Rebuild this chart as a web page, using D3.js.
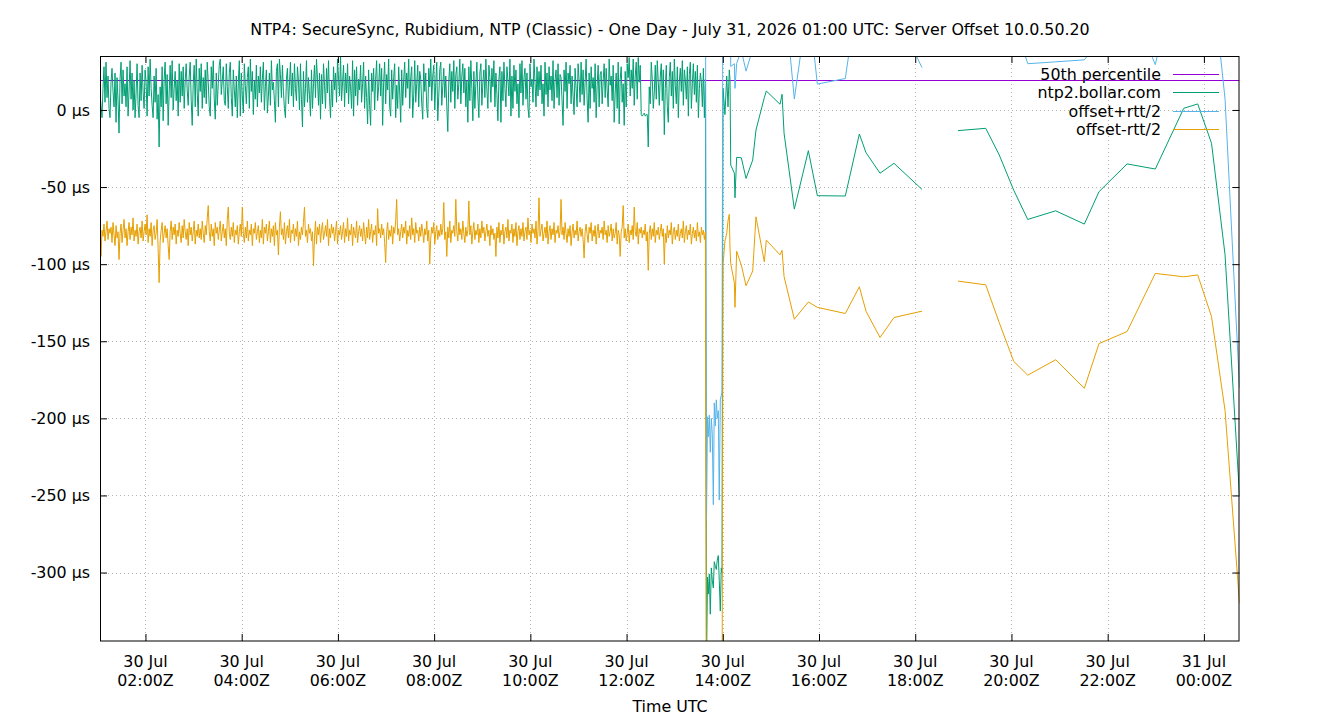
<!DOCTYPE html>
<html>
<head>
<meta charset="utf-8">
<script src="https://cdn.jsdelivr.net/npm/d3@7"></script>
<style>
  body { margin: 0; background: #fff; }
  svg { display: block; font-family: 'DejaVu Sans', sans-serif; }
</style>
</head>
<body>
<div id="chart"></div>
<script>
const title = 'NTP4: SecureSync, Rubidium, NTP (Classic) - One Day - July 31, 2026 01:00 UTC: Server Offset 10.0.50.20';
const xLabel = 'Time UTC';
const seriesNames = ['50th percentile', 'ntp2.bollar.com', 'offset+rtt/2', 'offset-rtt/2'];
const seriesColors = ['#9400d3', '#009e73', '#56b4e9', '#e69f00'];
const p50 = 19.5;
const yTicks = [-300, -250, -200, -150, -100, -50, 0];

// times are minutes after 2026-07-30 00:00Z
const dayStart = Date.UTC(2026, 6, 30);
const pollStartMin = 63.3;
const pollStepMin = 1.25;

// steady polling until ~13:38Z: offset, µs
const pollOffset = [
  10, 3, -5, 14, 28, 5, 31, 8, 22, 1, -5, 18, 27, 12, 2, 24, -8, 21, 6, -15,
  20, 31, 4, 26, 9, 17, 2, 28, -4, 13, 32, 7, 24, 0, 19, -5, 11, 30, 3, -5,
  24, 6, 29, 12, 1, 26, 18, -4, 28, 9, 33, 14, 3, -5, 22, 5, 27, -6, 10, -24,
  15, 2, 28, -7, 20, 31, 4, 23, -10, 11, 29, 8, 32, 0, 14, 25, 6, 19, -4, 30,
  5, 25, 9, 28, 1, 19, 30, 13, 3, 22, 31, 6, -10, 17, 29, 2, 33, 11, -4, 27,
  12, 30, 1, 21, 8, 26, 4, 31, 18, 2, -4, 28, 14, 32, 7, -6, 24, 3, 17, 29,
  33, 10, 19, 28, 6, 3, 30, 15, 1, 24, 31, 8, -4, 26, 13, 2, 22, -5, 18, 32,
  -4, 24, 9, -2, 30, 16, 4, 21, 28, 1, 33, 12, 25, -3, 19, 7, 29, 2, 22, 11,
  28, 5, 20, 31, 0, 15, 26, -2, 9, 24, 3, 32, 13, 18, 6, -8, 25, 30, 2, 33,
  23, 8, 29, 12, 1, -5, 20, 27, 4, 16, 31, 9, 24, 2, 30, 14, 6, 28, 19, 0,
  30, 7, -11, 25, 2, 14, 32, 5, 21, 10, -4, 26, 1, 17, 29, 8, 33, 20, 3, 24,
  -6, 23, 4, 30, 16, 1, 27, 11, 32, 8, -5, 19, 2, 28, 13, 24, 5, 33, 20, 9,
  35, 6, 18, 29, 2, 24, 11, 30, 4, 22, 15, 1, 32, -4, 26, 9, 28, 3, 20, 13,
  29, 5, 17, 31, 1, 22, 8, -9, 26, 3, -10, 24, 12, 27, 0, 20, 32, 6, 15, 30,
  9, 27, -10, 18, 31, 4, 23, 13, 33, 2, -4, 26, 7, 21, 30, -5, 16, 1, 28, 11,
  -8, 26, 3, 19, 31, 8, 24, 14, 33, 1, 21, 28, -5, 10, 32, 5, 17, 29, 2, 25,
  20, 4, -6, 30, 12, 24, 1, -5, 27, 15, 33, 6, 22, 29, 0, 18, 31, -7, 9, 26,
  31, 3, 16, 27, 8, 22, 2, -14, 19, 30, 5, 25, 12, 32, 1, 23, 28, 7, 17, 33,
  4, 22, 30, 11, 27, 2, 19, -8, 28, 6, 32, 14, -7, 25, 1, 17, 31, 9, -5, 24,
  30, 3, 18, 26, 8, 33, 13, 1, 29, 21, 5, 27, 15, 32, 2, 24, 10, -7, 20, 28,
  -8, 25, 6, 31, 14, 2, 28, 19, 9, 33, -4, 22, 1, 29, 12, 26, 4, 17, -5, 30,
  11, 32, 3, 21, 27, 7, 24, 1, -5, 30, 15, 20, 5, 33, 18, 2, 28, 9, 25, 13,
  29, 4, 17, -4, 31, 10, 24, 2, 28, 13, 22, 6, 32, 1, 19, 26, 8, 30, 3, 23,
  21, 6, -10, 26, 12, 31, 1, 24, 17, 29, 4, 22, 9, -3, 27, 14, 2, 30, 19, 5,
  31, 10, 26, 3, 18, 33, 7, -8, 24, 1, 28, 14, 21, 5, 30, -5, 16, 29, 2, 23,
  25, 4, 19, 30, 8, 27, 13, 2, 33, 16, 22, 6, 29, -8, 11, 24, 1, 31, -9, 20,
  28, 5, 17, -10, 25, 2, 30, 21, 34, 9, 26, 14, 33, 3, 22, 31, 7, 34, 18, 29,
  -3, -4, -3, -2, -4, -3, -3, -24, 15, 4, 31, 20, 1, 11, 29, 7, 32, 18, 3, 22,
  30, 6, 26, -16, 14, 29, 2, -8, 21, 31, 9, 25, 1, 33, 16, 4, 28, -5, 19, 27,
  12, 32, 3, 26, 19, 7, 28, -4, 23, 31, 1, 17, 30, 10, 25, 5, 29, -5, 14, 24,
  18, 2, 27, -5, 20
];
// same samples: offset-rtt/2, µs
const pollLow = [
  -68, -95, -78, -82, -74, -85, -79, -72, -84, -77, -80, -76, -86, -73, -81, -88, -75, -83, -79, -97,
  -80, -74, -86, -78, -71, -83, -77, -88, -79, -73, -84, -76, -81, -70, -85, -78, -82, -74, -87, -79,
  -76, -83, -72, -85, -79, -74, -81, -68, -86, -77, -82, -73, -88, -78, -75, -84, -80, -71, -90, -112,
  -85, -78, -73, -86, -80, -75, -83, -77, -88, -97, -79, -72, -84, -76, -81, -74, -87, -78, -82, -73,
  -80, -86, -75, -83, -71, -79, -84, -77, -88, -73, -81, -76, -85, -79, -72, -87, -78, -82, -74, -83,
  -77, -84, -72, -80, -86, -75, -81, -70, -62, -79, -85, -74, -82, -77, -88, -73, -80, -76, -84, -78,
  -72, -85, -79, -74, -83, -77, -88, -71, -63, -80, -84, -76, -82, -73, -86, -78, -81, -75, -87, -79,
  -74, -82, -63, -80, -86, -76, -83, -72, -85, -78, -81, -74, -88, -77, -80, -73, -84, -79, -75, -86,
  -78, -83, -71, -87, -76, -80, -74, -85, -79, -72, -86, -77, -82, -75, -88, -73, -81, -78, -94, -76,
  -66, -81, -77, -84, -73, -87, -79, -75, -83, -71, -86, -78, -80, -74, -85, -77, -82, -72, -88, -79,
  -84, -76, -81, -73, -63, -82, -78, -86, -74, -80, -77, -85, -79, -101, -83, -72, -87, -76, -81, -74,
  -86, -78, -73, -84, -80, -75, -82, -71, -88, -77, -83, -74, -80, -76, -85, -79, -72, -87, -78, -81,
  -75, -84, -79, -73, -86, -77, -82, -70, -85, -78, -81, -74, -88, -76, -80, -83, -72, -86, -79, -75,
  -82, -77, -85, -73, -80, -87, -76, -83, -71, -84, -79, -74, -86, -78, -81, -75, -88, -64, -80, -77,
  -83, -74, -81, -77, -86, -99, -79, -73, -84, -78, -82, -75, -87, -76, -80, -72, -58, -81, -77, -85,
  -79, -74, -83, -76, -80, -72, -87, -78, -82, -75, -84, -70, -81, -77, -86, -73, -80, -78, -85, -76,
  -82, -74, -79, -86, -77, -81, -72, -85, -78, -100, -83, -76, -80, -73, -87, -79, -75, -84, -78, -82,
  -74, -81, -77, -60, -84, -79, -95, -76, -83, -72, -86, -78, -80, -75, -82, -58, -79, -85, -73, -81,
  -77, -84, -72, -80, -86, -76, -82, -78, -59, -81, -75, -87, -79, -73, -84, -78, -81, -74, -86, -77,
  -83, -72, -80, -76, -85, -79, -74, -82, -78, -88, -75, -81, -77, -84, -80, -95, -76, -83, -73, -86,
  -78, -81, -74, -87, -79, -76, -83, -71, -85, -78, -80, -74, -86, -77, -82, -73, -88, -79, -75, -84,
  -77, -82, -73, -85, -79, -76, -84, -70, -81, -78, -86, -74, -80, -77, -83, -72, -87, -79, -57, -82,
  -78, -74, -85, -80, -76, -83, -72, -87, -79, -75, -84, -77, -81, -73, -86, -78, -80, -75, -83, -79,
  -58, -81, -76, -84, -73, -80, -86, -77, -82, -75, -88, -79, -74, -83, -78, -81, -72, -85, -79, -76,
  -82, -77, -84, -96, -79, -74, -81, -86, -76, -80, -73, -85, -78, -82, -75, -87, -79, -74, -83, -78,
  -80, -76, -84, -72, -81, -78, -86, -75, -82, -79, -74, -85, -77, -83, -80, -73, -87, -78, -81, -95,
  -79, -76, -62, -83, -77, -85, -80, -74, -86, -78, -81, -75, -84, -63, -79, -82, -73, -87, -77, -80,
  -76, -83, -78, -81, -74, -85, -79, -104, -80, -75, -84, -77, -82, -73, -86, -78, -81, -76, -84, -79,
  -74, -82, -77, -100, -80, -86, -75, -83, -78, -81, -73, -87, -79, -76, -84, -78, -82, -74, -85, -80,
  -77, -83, -72, -86, -79, -75, -84, -78, -81, -74, -87, -80, -76, -83, -78, -85, -73, -82, -79, -86,
  -76, -81, -78, -84, -79
];

// step at 13:40Z and the sparse samples after it (null = no data)
const laterMin = [
  819.7, 820.9, 821.9, 823.2, 824.4, 825.7, 826.9, 828.2, 829.4, 830.7, 831.9, 833.1, 834.4, 835.6, 836.9, 838.1, 839.0,
  840.3, 842.7, 844.9, 846.5, 848.1, 849.0, 849.9, 854.4, 855.2, 857.3, 863.1, 869.0, 877.3, 881.4,
  891.8, 894.3, 911.4, 913.9, 916.4, 929.2, 946.7, 957.9, 992.8, 1010.3, 1018.6, 1036.1, 1053.5, 1088.4,
  1110,
  1133.3, 1167.9, 1184.8, 1202.8, 1220.3, 1255.2, 1290.9, 1309.2, 1344.2, 1379.4, 1414.9, 1432.3, 1449.5, 1466.4, 1484.4
];
const laterOffset = [
  -360, -303, -314, -301, -327, -297, -305, -310, -293, -296, -298, -292, -289, -305, -325, -297, -300,
  14, -3, 22, 2, 26, 20, -35.7, -41, -57, -30.7, -31, -44.4, -32.5, -13,
  8, 12.3, 3.7, 10.2, -15, -64.3, -26.4, -55.6, -55.8, -15.6, -27.7, -41, -34.6, -51.5,
  null,
  -13.4, -11.9, -29.2, -52, -71, -65.4, -74, -53, -35, -38.3, 1.1, 3.9, -21.6, -94, -250
];
const laterLow = [
  -454, -407, -416, -404, -432, -394, -400, -364, -396, -387, -408, -384, -383, -357, -462, -409, -417,
  -100, -85, -80, -72, -67.7, -90, -99.6, -112, -128, -91.6, -100.6, -114, -104.5, -69.3,
  -98.5, -84.4, -94, -91, -108, -135.7, -124.5, -128, -132, -114.7, -130.5, -147.6, -134.6, -130.5,
  null,
  -111, -113.4, -138, -163, -172, -162, -180.5, -151.5, -143.7, -106, -108.2, -107, -134, -195, -320
];

const minToDate = m => new Date(dayStart + m * 60000);

const rows = pollOffset.map((v, i) => ({t: minToDate(pollStartMin + i * pollStepMin), offset: v, low: pollLow[i]}))
  .concat(laterMin.map((m, i) => ({t: minToDate(m), offset: laterOffset[i], low: laterLow[i]})));
rows.forEach(d => {
  d.rtt = d.offset == null ? null : 2 * (d.offset - d.low);
  d.high = d.offset == null ? null : d.offset + d.rtt / 2;
});

const W = 1340, H = 720;
const fontSize = 15.85;
const margin = {top: 56, right: 100.5, bottom: 79, left: 100};
const plotL = margin.left, plotR = W - margin.right, plotT = margin.top, plotB = H - margin.bottom;

const x = d3.scaleUtc()
  .domain(d3.extent(rows, d => d.t))
  .range([plotL, plotR]);

const y = d3.scaleLinear()
  .domain([-344.4, 35])
  .range([plotB, plotT]);

const xTicks = x.ticks(d3.utcHour.every(2));

const svg = d3.select('#chart')
  .append('svg')
  .attr('width', W)
  .attr('height', H);

svg.append('rect').attr('width', W).attr('height', H).attr('fill', '#fff');

svg.append('defs').append('clipPath').attr('id', 'plot-clip')
  .append('rect')
  .attr('x', plotL).attr('y', plotT)
  .attr('width', plotR - plotL).attr('height', plotB - plotT);

// dotted grid
const grid = svg.append('g').attr('stroke', '#b4b4b4').attr('stroke-dasharray', '1,3');
grid.selectAll('.gx')
  .data(xTicks)
  .enter().append('line')
    .attr('x1', d => Math.round(x(d)) + 0.5).attr('x2', d => Math.round(x(d)) + 0.5)
    .attr('y1', plotT).attr('y2', plotB);
grid.selectAll('.gy')
  .data(yTicks)
  .enter().append('line')
    .attr('x1', plotL).attr('x2', plotR)
    .attr('y1', d => Math.round(y(d)) + 0.5).attr('y2', d => Math.round(y(d)) + 0.5);

// series
const plot = svg.append('g').attr('clip-path', 'url(#plot-clip)')
  .attr('fill', 'none').attr('stroke-width', 1);

plot.append('path')
  .datum(x.domain())
  .attr('stroke', seriesColors[0])
  .attr('d', d3.line().x(d => x(d)).y(() => Math.round(y(p50)) + 0.5));

const accessors = [null, d => d.offset, d => d.high, d => d.low];
[1, 2, 3].forEach(k => {
  plot.append('path')
    .datum(rows)
    .attr('stroke', seriesColors[k])
    .attr('stroke-linejoin', 'round')
    .attr('d', d3.line()
      .defined(d => accessors[k](d) != null)
      .x(d => x(d.t))
      .y(d => y(accessors[k](d))));
});

// border
svg.append('rect')
  .attr('x', plotL + 0.5).attr('y', plotT + 0.5)
  .attr('width', plotR - plotL - 1).attr('height', plotB - plotT - 0.5)
  .attr('fill', 'none').attr('stroke', '#000');

const styleAxis = g => g.call(s => s.select('.domain').remove())
  .attr('font-family', "'DejaVu Sans', sans-serif")
  .attr('font-size', fontSize)
  .call(s => s.selectAll('.tick line').attr('stroke', '#000'));

svg.append('g')
  .attr('transform', `translate(0,${plotB})`)
  .call(d3.axisBottom(x).tickValues(xTicks).tickSize(-7).tickFormat(''))
  .call(styleAxis);
svg.append('g')
  .attr('transform', `translate(0,${plotT})`)
  .call(d3.axisTop(x).tickValues(xTicks).tickSize(-7).tickFormat(''))
  .call(styleAxis);
svg.append('g')
  .attr('transform', `translate(${plotL},0)`)
  .call(d3.axisLeft(y).tickValues(yTicks).tickSize(-7).tickPadding(10).tickFormat(d => d + ' µs'))
  .call(styleAxis)
  .call(g => g.selectAll('.tick text').attr('fill', '#000'));
svg.append('g')
  .attr('transform', `translate(${plotR},0)`)
  .call(d3.axisRight(y).tickValues(yTicks).tickSize(-7).tickFormat(''))
  .call(styleAxis);

// two-line time labels
const xl = svg.append('g').attr('font-size', fontSize).attr('text-anchor', 'middle').attr('fill', '#000');
xl.selectAll('.d')
  .data(xTicks)
  .enter().append('text')
    .attr('x', d => x(d)).attr('y', 667)
    .text(d3.utcFormat('%d %b'));
xl.selectAll('.h')
  .data(xTicks)
  .enter().append('text')
    .attr('x', d => x(d)).attr('y', 686)
    .text(d3.utcFormat('%H:%MZ'));

svg.append('text')
  .attr('x', 670).attr('y', 712)
  .attr('text-anchor', 'middle').attr('font-size', fontSize)
  .text(xLabel);

svg.append('text')
  .attr('x', 670).attr('y', 35)
  .attr('text-anchor', 'middle').attr('font-size', fontSize)
  .text(title);

// legend
const legend = svg.append('g').attr('font-size', fontSize);
const item = legend.selectAll('.item')
  .data(seriesNames)
  .enter().append('g')
    .attr('transform', (d, i) => `translate(0,${Math.round(74 + i * 18.4) + 0.5})`);
item.append('text')
  .attr('x', 1161).attr('dy', '0.35em')
  .attr('text-anchor', 'end')
  .text(d => d);
item.append('line')
  .attr('x1', 1173).attr('x2', 1219)
  .attr('stroke', (d, i) => seriesColors[i]);
</script>
</body>
</html>
